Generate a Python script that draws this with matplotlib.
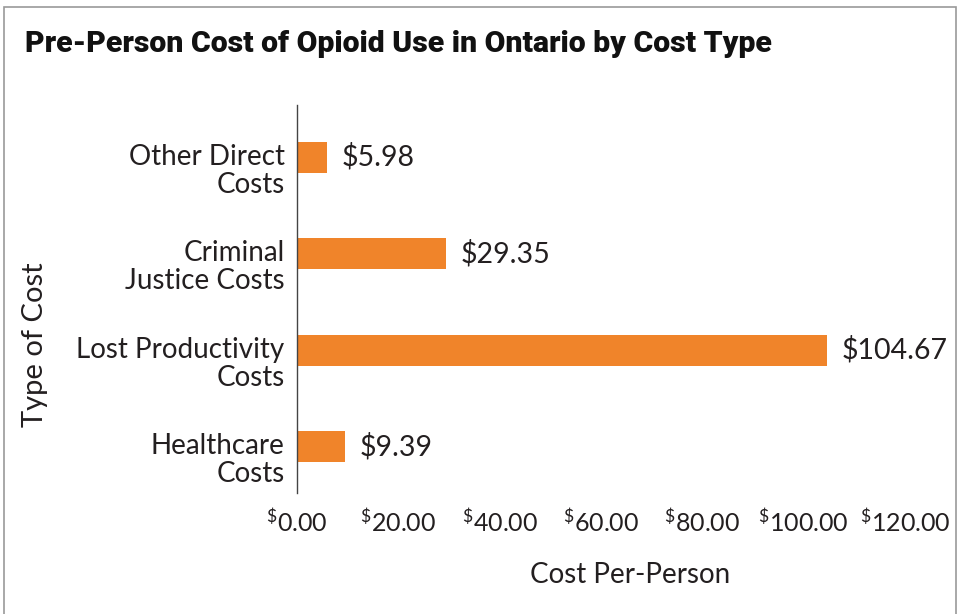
import matplotlib.pyplot as plt
from matplotlib.patches import Rectangle
from matplotlib.transforms import ScaledTranslation

plt.rcParams['font.family'] = ['Lato', 'DejaVu Sans']
plt.rcParams['mathtext.fontset'] = 'custom'
plt.rcParams['mathtext.rm'] = 'Lato'
plt.rcParams['mathtext.it'] = 'Lato'
plt.rcParams['mathtext.bf'] = 'Lato:bold'

categories = ["Healthcare\nCosts", "Lost Productivity\nCosts",
              "Criminal\nJustice Costs", "Other Direct\nCosts"]
costs = [9.39, 104.67, 29.35, 5.98]
x_ticks = [0, 20, 40, 60, 80, 100, 120]

text_color = "#231f20"
bar_color = "#f0842a"

fig = plt.figure(figsize=(9.59, 6.14), dpi=100)
ax = fig.add_axes([0.3097, 0.197, 0.634, 0.632])

y = range(len(categories))
ax.barh(y, costs, height=0.32, color=bar_color)
for yi, v in zip(y, costs):
    ax.text(v + 2.9, yi, f"${v:.2f}", va="center", ha="left",
            fontsize=20.5, color=text_color)

ax.set_xlim(0, 120)
ax.set_ylim(-0.48, 3.54)
ax.set_yticks(list(y))
ax.set_yticklabels(categories, fontsize=20, color=text_color,
                   linespacing=1.1)
ax.set_xticks(x_ticks)
ax.set_xticklabels([r"$^{\$}$" + f"{t:.2f}" for t in x_ticks],
                   fontsize=18, color=text_color)
ax.tick_params(length=0)
ax.tick_params(axis="x", pad=11)
ax.tick_params(axis="y", pad=9)

# category labels sit a little below the bar centres
shift = ScaledTranslation(0, -0.1, fig.dpi_scale_trans)
for lbl in ax.get_yticklabels():
    lbl.set_transform(lbl.get_transform() + shift)

for s in ["top", "right", "bottom"]:
    ax.spines[s].set_visible(False)
ax.spines["left"].set_color("#444444")
ax.spines["left"].set_linewidth(1)

fig.text(630 / 959, 1 - 575 / 614, "Cost Per-Person", ha="center",
         va="center", fontsize=20, color=text_color)
fig.text(35 / 959, 1 - 345 / 614, "Type of Cost", ha="center",
         va="center", rotation=90, fontsize=21, color=text_color)
fig.text(25 / 959, 1 - 44 / 614,
         "Pre-Person Cost of Opioid Use in Ontario by Cost Type",
         ha="left", va="center", fontsize=21.8, fontweight="black",
         family=["Roboto", "DejaVu Sans"], color="#111111")

fig.patches.append(Rectangle((4 / 959, -0.01), 952 / 959, 1 - 7 / 614 + 0.01,
                             transform=fig.transFigure, fill=False,
                             edgecolor="#9a9a9a", linewidth=1.2))

fig.savefig("out.png", dpi=100)
